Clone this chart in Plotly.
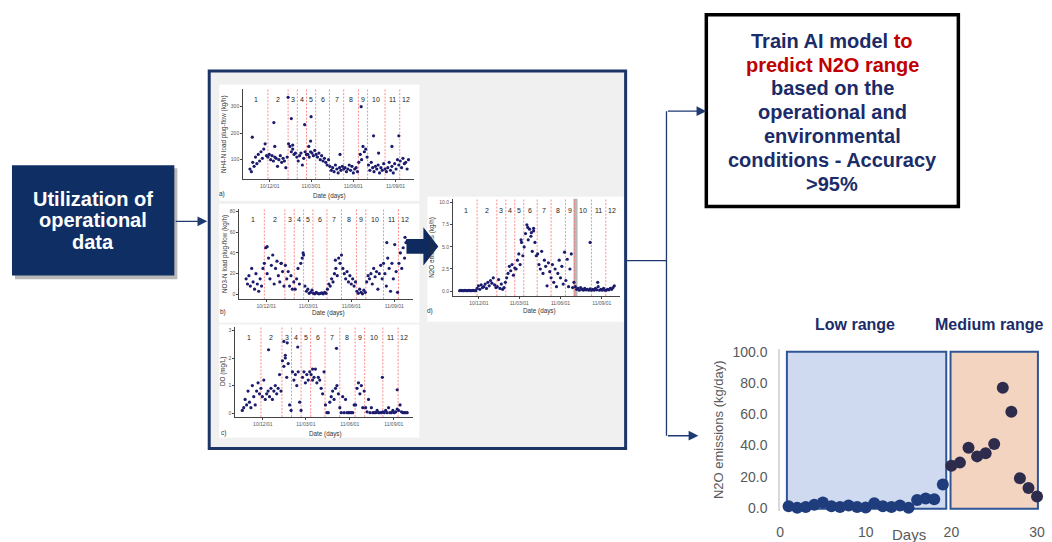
import plotly.graph_objects as go
import pandas as pd

W, H = 1052, 542


def px(x):
    return x / W


def py(y):
    return 1 - y / H


# ------------------------------------------------------------------ data
# sampling grid of the four monitoring series (every 3 days)
sample_dates = pd.date_range("2010-10-19", periods=116, freq="3D")

nh4_load = [
    65, 55, 90, 75, 110, 85, 120, 95, 130, 105, 140, 160, 115,
    110, 120, 100, 115, 95, 110, 105, 75, 100, 115, 90, 105, 95, 70, 110,
    160, 150, 130, 140, 120, 125, 110,
    95, 115, 125, 80, 105, 130, 120,
    120, 110, 130, 125, 115, 135,
    120, 110, 125, 100, 115, 95, 105, 90, 80, 100,
    75, 60, 70, 55, 80, 65, 50, 70, 60, 75, 65,
    70, 55, 65, 80, 60, 75, 50, 65, 70, 55,
    90, 120, 100, 150, 130, 140, 110,
    80, 60, 90, 70, 55, 75, 65, 80, 50, 70, 60, 85, 65,
    55, 70, 90, 60, 75, 50, 85, 65, 100, 80,
    95, 70, 105, 85, 90, 65, 100,
]
nh4_extra_dates = ["2010-10-24", "2010-12-10", "2010-12-12", "2011-01-10", "2011-01-17",
                   "2011-01-20", "2011-02-15", "2011-02-24", "2011-02-28", "2011-03-01",
                   "2011-05-03", "2011-06-18", "2011-07-15", "2011-07-26", "2011-08-24",
                   "2011-09-08"]
nh4_extra_vals = [185, 240, 150, 335, 255, 155, 232, 150, 170, 262,
                  120, 300, 190, 125, 150, 190]

no3_load = [
    15, 10, 18, 8, 25, 12, 5, 20, 10, 3, 15, 8, 25,
    30, 45, 20, 35, 15, 28, 38, 10, 25, 32, 18, 12, 30, 22, 8,
    28, 15, 22, 8, 18, 5, 12,
    5, 15, 25, 10, 30, 35, 38,
    8, 3, 5, 1, 2, 4,
    1, 0.5, 2, 1, 0.5, 1, 1.5, 0.5, 2, 1,
    5, 10, 8, 15, 12, 20, 25, 18, 35, 30, 38,
    25, 20, 15, 22, 12, 18, 10, 15, 8, 12,
    3, 1, 5, 2, 0.5, 4, 2,
    12, 18, 15, 20, 10, 25, 17, 22, 5, 20, 28, 15, 30,
    20, 8, 35, 25, 3, 30, 15, 48, 22, 2,
    30, 40, 25, 45, 35, 50, 52,
]
no3_extra_dates = ["2010-12-03", "2011-01-02", "2011-02-18", "2011-04-28", "2011-08-16", "2011-09-24"]
no3_extra_vals = [46, 30, 40, 33, 50, 55]

do_conc = [
    0.1, 0.2, 0.5, 0.3, 0.8, 0.4, 0.2, 1.0, 0.6, 0.3, 0.8, 1.1, 0.7,
    0.9, 0.6, 1.2, 0.5, 0.7, 0.8, 0.6, 0.9, 0.5, 0.8, 1.0, 0.7, 0.9, 1.4, 0.8,
    1.9, 1.7, 2.0, 1.3, 1.8, 0.3, 0.1,
    1.5, 1.2, 1.4, 1.0, 1.5, 0.4, 0.1,
    1.3, 1.5, 1.1, 1.4, 1.2, 1.5,
    1.4, 1.2, 1.3, 1.6, 1.1, 1.3, 1.2, 0.9, 0.7, 1.5,
    0.3, 0.02, 0.02, 0.4, 0.6, 0.8, 0.5, 0.9, 1.0, 0.7, 0.2,
    0.02, 0.6, 0.02, 0.5, 0.02, 0.02, 0.02, 0.02, 0.02, 0.3,
    0.3, 0.9, 1.1, 0.7, 1.0, 0.2, 0.8,
    0.2, 0.05, 0.5, 0.02, 0.2, 0.02, 0.02, 0.02, 0.1, 0.02, 0.02, 0.02, 0.05,
    0.02, 0.1, 0.02, 0.2, 0.02, 0.02, 0.1, 0.02, 0.05, 0.15,
    0.1, 0.3, 0.05, 0.02, 0.02, 0.02, 0.02,
]
do_extra_dates = ["2010-12-13", "2011-01-14", "2011-01-17", "2011-01-21", "2011-02-12",
                  "2011-03-15", "2011-05-04", "2011-08-08", "2011-09-08"]
do_extra_vals = [2.3, 2.6, 2.1, 2.55, 2.4, 1.6, 2.35, 1.3, 0.85]

n2o_kgh = [
    0.05, 0.1, 0.05, 0.05, 0.1, 0.05, 0.05, 0.1, 0.05, 0.05, 0.1, 0.05, 0.05,
    0.3, 0.6, 0.2, 0.7, 0.4, 0.5, 0.8, 0.3, 1.0, 0.6, 1.2, 0.9, 1.5, 0.7, 0.4,
    0.5, 1.3, 0.3, 0.8, 0.2, 0.4, 1.0,
    1.5, 2.0, 2.8, 2.3, 3.0, 1.8, 2.6,
    2.5, 3.5, 4.2, 3.0, 5.5, 4.0,
    5.0, 6.5, 7.5, 5.8, 7.0, 6.2, 4.5, 6.8, 5.5, 4.0,
    4.2, 3.0, 2.5, 4.5, 2.0, 3.5, 2.8, 0.6, 3.2, 2.2, 1.5,
    3.0, 1.0, 2.5, 0.5, 2.0, 3.5, 1.5, 2.8, 0.8, 4.4,
    1.2, 3.6, 0.5, 2.5, 4.2, 0.4, 1.0,
    0.5, 0.2, 0.3, 0.1, 0.4, 0.2, 0.1, 0.3, 0.15, 0.2, 0.1, 0.25, 0.1,
    0.2, 0.1, 0.3, 0.15, 0.5, 0.1, 0.2, 0.1, 0.3, 0.1,
    0.1, 0.2, 0.15, 0.3, 0.2, 0.4, 0.6,
]
n2o_extra_dates = ["2011-03-05", "2011-03-20", "2011-03-28", "2011-04-02", "2011-08-06", "2011-08-23"]
n2o_extra_vals = [5.8, 7.2, 6.6, 7.1, 5.5, 1.0]

period_bounds = ["2010-11-27", "2011-01-10", "2011-01-30", "2011-02-19", "2011-03-11",
                 "2011-04-10", "2011-05-11", "2011-06-12", "2011-07-02", "2011-08-09",
                 "2011-09-10"]
period_edges = ["2010-10-08"] + period_bounds + ["2011-10-06"]
period_labels = [str(i) for i in range(1, 13)]
gap_band = ("2011-06-30", "2011-07-09")

date_ticks = ["2010-12-01", "2011-03-01", "2011-06-01", "2011-09-01"]
date_tick_text = ["10/12/01", "11/03/01", "11/06/01", "11/09/01"]
date_range = ["2010-10-04", "2011-10-12"]

# daily N2O emissions used to define the ranges
days = list(range(1, 31))
n2o_daily = [1.0, 0.0, 0.5, 2.0, 3.5, 1.0, 0.5, 1.5, 0.5, 0.2,
             3.0, 1.0, 0.5, 1.5, 0.0, 5.0, 6.0, 5.5, 15.0, 27.0,
             29.0, 38.5, 33.0, 35.0, 41.0, 77.0, 61.6, 19.0, 12.8, 7.3]
low_range = (0.8, 19.4)
medium_range = (19.9, 30.1)

left_box_lines = ["Utilization of", "operational", "data"]
model_box_lines = [
    "Train AI model <span style='color:#c00000'>to</span>",
    "<span style='color:#c00000'>predict N2O range</span>",
    "based on the",
    "operational and",
    "environmental",
    "conditions - Accuracy",
    "&gt;95%",
]

# ------------------------------------------------------------------ figure
NAVY_TXT = "#1b2c68"
DOT = "#1c1c6e"
FONT = "Liberation Sans, Arial, sans-serif"

fig = go.Figure()
shapes = []
annotations = []


def prect(x0, y0, x1, y1, **kw):
    d = dict(type="rect", xref="paper", yref="paper",
             x0=px(x0), x1=px(x1), y0=py(y1), y1=py(y0), layer="below")
    d.update(kw)
    return d


def ptext(x, y, text, size, color="#333333", **kw):
    d = dict(xref="paper", yref="paper", x=px(x), y=py(y), text=text, showarrow=False,
             font=dict(size=size, color=color, family=FONT),
             xanchor="center", yanchor="middle")
    d.update(kw)
    return d


# left box
shapes.append(prect(11, 166, 174, 279, fillcolor="rgba(0,0,0,0.28)", line=dict(width=0)))
shapes.append(prect(8, 163, 171, 275, fillcolor="#0f2f64", line=dict(width=0)))
for i, line in enumerate(left_box_lines):
    annotations.append(ptext(89.5, 197 + 22 * i, f"<b>{line}</b>", 20, "white"))
annotations.append(dict(xref="paper", yref="paper", x=px(204), y=py(220), ax=-33, ay=0,
                        text="", showarrow=True, arrowhead=2, arrowsize=1.5,
                        arrowwidth=1.3, arrowcolor="#1f3a70"))

# grey panel with the four source charts
shapes.append(prect(206, 67, 624, 451, fillcolor="#f0f0f0", line=dict(color="#1c3566", width=3)))
for (x0, y0, x1, y1) in [(216, 81, 417, 199), (216, 202, 417, 323), (216, 325, 417, 440), (425, 195, 622, 322)]:
    shapes.append(prect(x0, y0, x1, y1, fillcolor="white", line=dict(width=0)))

panels = [
    dict(vals=nh4_load, ex=nh4_extra_dates, ev=nh4_extra_vals, xd=(240, 412), yd=(85, 177),
         yr=(27, 368), yt=[100, 200, 300], ytt=["100", "200", "300"],
         title="NH4-N load plug-flow (kg/h)", tx=221, lab="a)", lp=(219, 192), dp=(327, 194)),
    dict(vals=no3_load, ex=no3_extra_dates, ev=no3_extra_vals, xd=(236, 411), yd=(207, 299),
         yr=(-4.5, 82.8), yt=[0, 20, 40, 60, 80], ytt=["0", "20", "40", "60", "80"],
         title="NO3-N load plug-flow (kg/h)", tx=222, lab="b)", lp=(220, 312), dp=(326, 313)),
    dict(vals=do_conc, ex=do_extra_dates, ev=do_extra_vals, xd=(232, 411), yd=(327, 419),
         yr=(-0.14, 3.14), yt=[0, 1, 2, 3], ytt=["0", "1", "2", "3"],
         title="DO (mg/L)", tx=220, lab="c)", lp=(220, 435), dp=(323, 436.5)),
    dict(vals=n2o_kgh, ex=n2o_extra_dates, ev=n2o_extra_vals, xd=(450.6, 618.5), yd=(197, 296),
         yr=(-0.56, 10.44), yt=[0, 2.5, 5, 7.5, 10], ytt=["0.0", "2.5", "5.0", "7.5", "10.0"],
         title="N2O emissions (kg/h)", tx=430, lab="d)", lp=(428, 311), dp=(538, 311.5)),
]

label_mid = [pd.Timestamp(period_edges[i]) + (pd.Timestamp(period_edges[i + 1]) - pd.Timestamp(period_edges[i])) / 2
             for i in range(len(period_labels))]

axis_common = dict(showgrid=False, zeroline=False, showline=True, linecolor="#444444",
                   linewidth=0.8, ticks="outside", ticklen=2, tickcolor="#444444",
                   tickfont=dict(size=5, color="#555555", family=FONT))

for k, p in enumerate(panels, start=1):
    xa = "x" if k == 1 else f"x{k}"
    ya = "y" if k == 1 else f"y{k}"
    if k == 4:
        shapes.append(dict(type="rect", xref=xa, yref=f"{ya} domain", x0=gap_band[0], x1=gap_band[1],
                           y0=0, y1=1, fillcolor="#b8b8b8", line=dict(width=0), layer="below"))
    for b in period_bounds:
        shapes.append(dict(type="line", xref=xa, yref=f"{ya} domain", x0=b, x1=b, y0=0, y1=1,
                           line=dict(color="#ff7070", width=0.8, dash="2px,1.5px"), layer="below"))
    for lbl, mid in zip(period_labels, label_mid):
        annotations.append(dict(xref=xa, yref=f"{ya} domain", x=mid, y=0.94, text=lbl,
                                showarrow=False, font=dict(size=7, color="#222222", family=FONT)))
    xs = list(sample_dates) + [pd.Timestamp(d) for d in p["ex"]]
    ys = list(p["vals"]) + list(p["ev"])
    fig.add_trace(go.Scatter(x=xs, y=ys, mode="markers", xaxis=xa, yaxis=ya,
                             marker=dict(size=3.2, color=DOT), showlegend=False, hoverinfo="skip"))
    fig.layout[f"xaxis{k if k > 1 else ''}"] = dict(
        axis_common, type="date", range=date_range, tickvals=date_ticks, ticktext=date_tick_text,
        domain=[px(p["xd"][0]), px(p["xd"][1])], anchor=ya)
    fig.layout[f"yaxis{k if k > 1 else ''}"] = dict(
        axis_common, range=list(p["yr"]), tickvals=p["yt"], ticktext=p["ytt"],
        domain=[py(p["yd"][1]), py(p["yd"][0])], anchor=xa)
    annotations.append(ptext(p["tx"], (p["yd"][0] + p["yd"][1]) / 2, p["title"], 6.3, "#333333", textangle=-90))
    annotations.append(ptext(p["dp"][0], p["dp"][1], "Date (days)", 6.3, "#333333"))
    annotations.append(ptext(p["lp"][0], p["lp"][1], p["lab"], 6.5, "#333333"))

# big arrow from the inputs to the N2O chart
ax0, ax1, ax2 = 404, 421, 436
ay0, ay1, ay2, ay3 = 226, 238, 253, 265
path = (f"M {px(ax0)} {py(ay1)} L {px(ax1)} {py(ay1)} L {px(ax1)} {py(ay0)} L {px(ax2)} {py((ay0 + ay3) / 2)} "
        f"L {px(ax1)} {py(ay3)} L {px(ax1)} {py(ay2)} L {px(ax0)} {py(ay2)} Z")
shapes.append(dict(type="path", xref="paper", yref="paper", path=path, fillcolor="#0f2a5e",
                   line=dict(width=0), layer="above"))

# connectors
shapes.append(dict(type="line", xref="paper", yref="paper", x0=px(624), x1=px(665), y0=py(260), y1=py(260),
                   line=dict(color="#1f3a70", width=1.3)))
shapes.append(dict(type="line", xref="paper", yref="paper", x0=px(665), x1=px(665), y0=py(108), y1=py(438),
                   line=dict(color="#1f3a70", width=1.3)))
annotations.append(dict(xref="paper", yref="paper", x=px(705), y=py(108), ax=-40, ay=0, text="",
                        showarrow=True, arrowhead=2, arrowsize=1.5, arrowwidth=1.3, arrowcolor="#1f3a70"))
annotations.append(dict(xref="paper", yref="paper", x=px(697), y=py(438), ax=-32, ay=0, text="",
                        showarrow=True, arrowhead=2, arrowsize=1.5, arrowwidth=1.3, arrowcolor="#1f3a70"))

# AI model box
shapes.append(prect(705, 10, 958, 205, fillcolor="white", line=dict(color="black", width=3.5)))
for i, line in enumerate(model_box_lines):
    annotations.append(ptext(831.5, 36.5 + 24.2 * i, f"<b>{line}</b>", 20, NAVY_TXT))

# daily N2O chart with the ranges
shapes.append(dict(type="rect", xref="x5", yref="y5", x0=low_range[0], x1=low_range[1], y0=-0.5, y1=100,
                   fillcolor="#cfdaf0", line=dict(color="#2f5597", width=2), layer="below"))
shapes.append(dict(type="rect", xref="x5", yref="y5", x0=medium_range[0], x1=medium_range[1], y0=-0.5, y1=100,
                   fillcolor="#f3d4c1", line=dict(color="#2f5597", width=2), layer="below"))
dot_colors = ["#1f3d7c" if d < medium_range[0] else "#2e2c4d" for d in days]
fig.add_trace(go.Scatter(x=days, y=n2o_daily, mode="markers", xaxis="x5", yaxis="y5",
                         marker=dict(size=12, color=dot_colors), cliponaxis=False,
                         showlegend=False, hoverinfo="skip"))
fig.layout["xaxis5"] = dict(domain=[px(779), px(1045)], range=[0, 30.93], anchor="y5",
                            showgrid=False, zeroline=False, showline=False, ticks="",
                            tickvals=[0, 10, 20, 30], tickfont=dict(size=14, color="#595959", family=FONT),
                            ticklabelstandoff=11)
fig.layout["yaxis5"] = dict(domain=[py(515), py(350)], range=[-2.3, 101.7], anchor="x5",
                            showgrid=False, zeroline=False, showline=True, linecolor="#d9d9d9", linewidth=1.5,
                            ticks="", tickvals=[0, 20, 40, 60, 80, 100], tickformat=".1f",
                            tickfont=dict(size=14, color="#595959", family=FONT), ticklabelstandoff=8)
annotations.append(ptext(718, 432, "N2O emissions (kg/day)", 13, "#595959", textangle=-90))
annotations.append(dict(xref="x5", yref="paper", x=15, y=py(538), yanchor="middle", text="Days",
                        showarrow=False, font=dict(size=15, color="#595959", family=FONT)))
annotations.append(dict(xref="x5", yref="paper", x=8.8, y=py(325), text="<b>Low range</b>", showarrow=False,
                        yanchor="middle", font=dict(size=16, color=NAVY_TXT, family=FONT)))
annotations.append(dict(xref="x5", yref="paper", x=24.5, y=py(325), text="<b>Medium range</b>", showarrow=False,
                        yanchor="middle", font=dict(size=16, color=NAVY_TXT, family=FONT)))

fig.update_layout(width=W, height=H, margin=dict(l=0, r=0, t=0, b=0),
                  paper_bgcolor="white", plot_bgcolor="rgba(0,0,0,0)",
                  shapes=shapes, annotations=annotations, showlegend=False,
                  font=dict(family=FONT))

fig.write_html("out.html", config={"displayModeBar": False},
               post_script="document.body.style.margin='0';document.body.style.overflow='hidden';")
